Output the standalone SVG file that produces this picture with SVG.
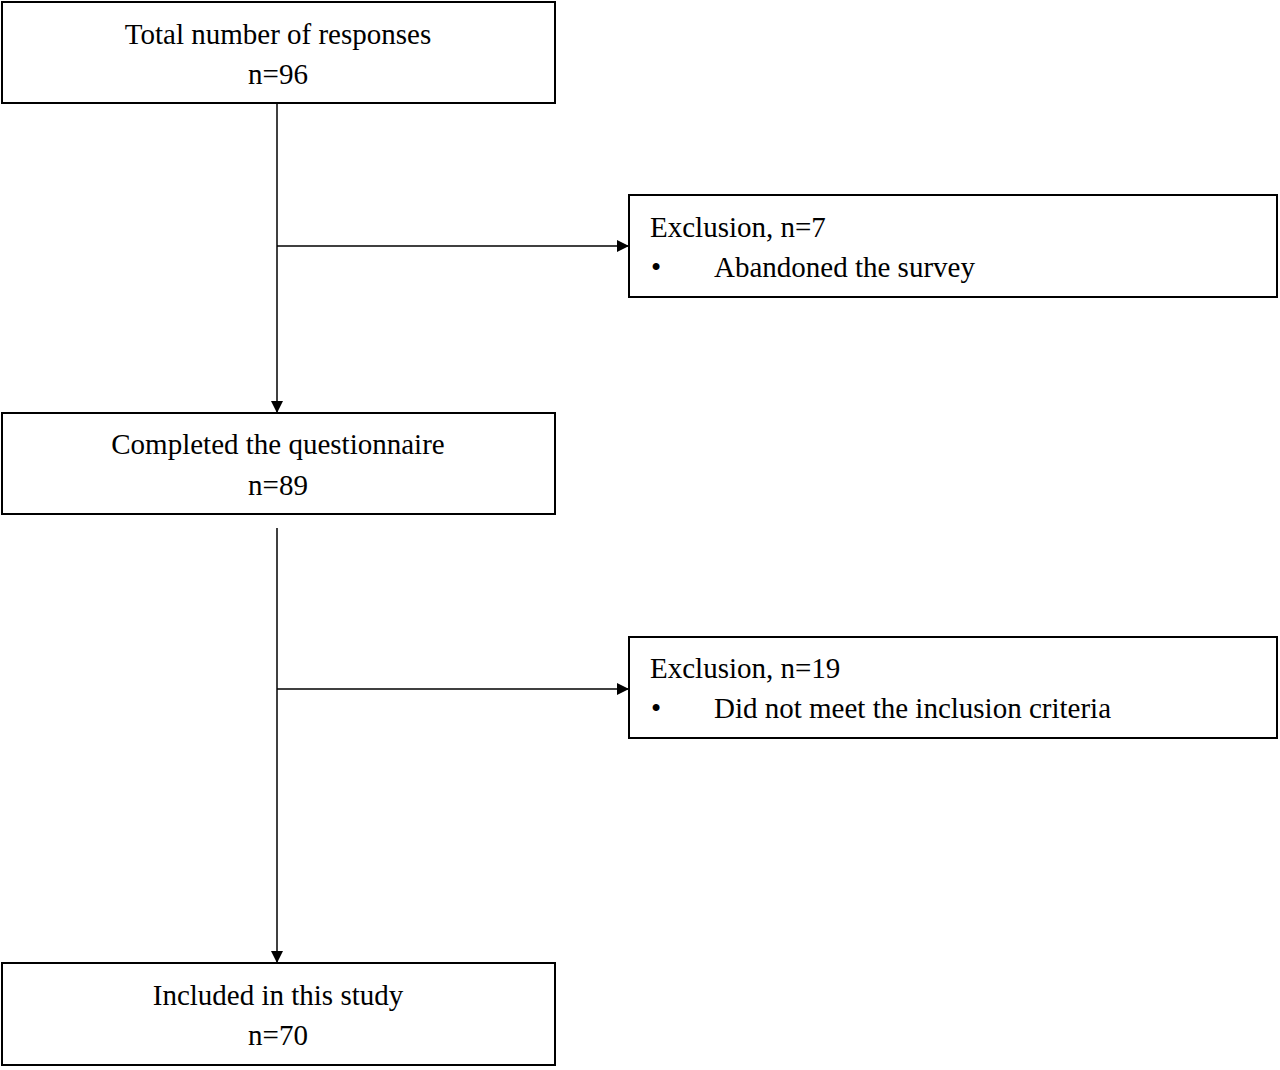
<svg xmlns="http://www.w3.org/2000/svg" width="1280" height="1070" viewBox="0 0 1280 1070">
<style>
.b{fill:#fff;stroke:#000;stroke-width:2}
text{font-family:"Liberation Serif",serif;font-size:29px;fill:#000}
.c{text-anchor:middle}
.l{stroke:#000;stroke-width:1.5;fill:none}
</style>
<defs><marker id="a" markerWidth="12" markerHeight="12" refX="11" refY="6" orient="auto" markerUnits="userSpaceOnUse"><path d="M0,0 L12,6 L0,12 Z" fill="#000"/></marker></defs>
<rect width="1280" height="1070" fill="#fff"/>
<g id="n1"><rect class="b" x="2" y="2" width="553" height="101"/><text class="c" x="278" y="44">Total number of responses</text><text class="c" x="278" y="84">n=96</text></g>
<g id="n2"><rect class="b" x="629" y="195" width="648" height="102"/><text x="650" y="237">Exclusion, n=7</text><text x="651" y="277">•</text><text x="714" y="277">Abandoned the survey</text></g>
<g id="n3"><rect class="b" x="2" y="413" width="553" height="101"/><text class="c" x="278" y="454">Completed the questionnaire</text><text class="c" x="278" y="495">n=89</text></g>
<g id="n4"><rect class="b" x="629" y="637" width="648" height="101"/><text x="650" y="678">Exclusion, n=19</text><text x="651" y="718">•</text><text x="714" y="718">Did not meet the inclusion criteria</text></g>
<g id="n5"><rect class="b" x="2" y="963" width="553" height="102"/><text class="c" x="278" y="1005">Included in this study</text><text class="c" x="278" y="1045">n=70</text></g>
<g id="connectors">
<line class="l" x1="277" y1="103" x2="277" y2="412" marker-end="url(#a)"/>
<line class="l" x1="277" y1="246" x2="628" y2="246" marker-end="url(#a)"/>
<line class="l" x1="277" y1="528" x2="277" y2="962" marker-end="url(#a)"/>
<line class="l" x1="277" y1="689" x2="628" y2="689" marker-end="url(#a)"/>
</g>
</svg>
